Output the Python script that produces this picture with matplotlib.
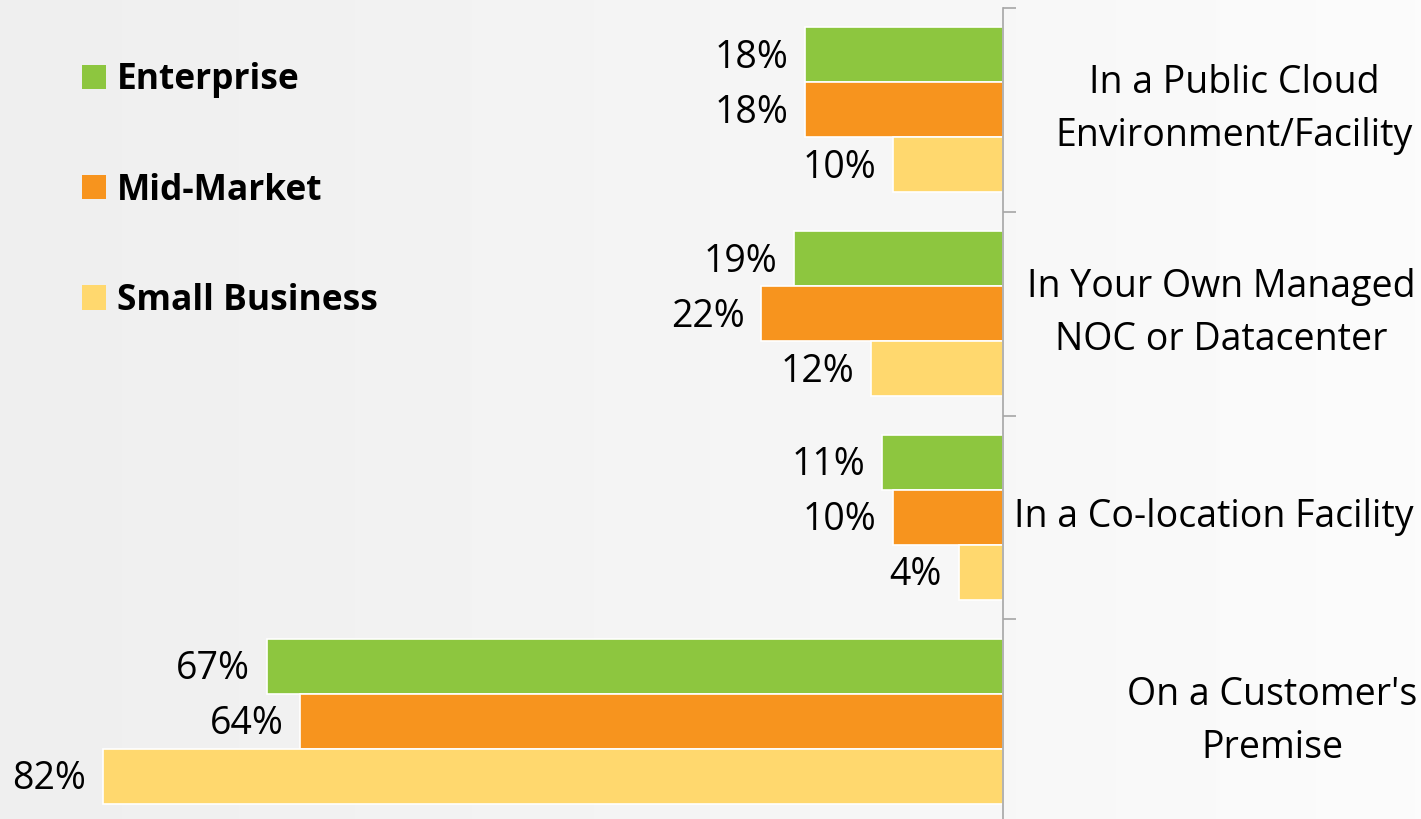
import numpy as np
import matplotlib.pyplot as plt
from matplotlib.colors import LinearSegmentedColormap
from matplotlib.transforms import blended_transform_factory

# Share of respondents by where the equipment is hosted
categories = ['In a Public Cloud\nEnvironment/Facility',
              'In Your Own Managed\nNOC or Datacenter',
              'In a Co-location Facility',
              "On a Customer's\nPremise"]
segments = ['Enterprise', 'Mid-Market', 'Small Business']
enterprise = [18, 19, 11, 67]
mid_market = [18, 22, 10, 64]
small_business = [10, 12, 4, 82]

colors = ['#8DC63F', '#F7941E', '#FFD86E']
label_centers = [1234, 1221, 1214, 1272]  # px, horizontal centre of each category label

plt.rcParams['font.family'] = ['Open Sans', 'DejaVu Sans']

W, H = 1421, 819
fig = plt.figure(figsize=(W / 100, H / 100), dpi=100)

# soft grey background, a bit lighter towards the right
bg = fig.add_axes([0, 0, 1, 1], zorder=-10)
grad = np.linspace(0, 1, 256).reshape(1, -1)
cmap = LinearSegmentedColormap.from_list('bg', ['#efefef', '#f5f5f5', '#fcfcfc'])
bg.imshow(grad, aspect='auto', cmap=cmap, extent=[0, 1, 0, 1])
bg.set_axis_off()

ax = fig.add_axes([0, (H - 823) / H, 1003 / W, 815 / H])
ax.patch.set_alpha(0)

y = np.arange(len(categories))
h = 0.27
series = [enterprise, mid_market, small_business]
for i, (vals, name, c) in enumerate(zip(series, segments, colors)):
    ypos = y + (i - 1) * h
    ax.barh(ypos, vals, height=h, color=c, label=name,
            edgecolor='white', linewidth=1.2)
    for v, yy in zip(vals, ypos):
        ax.annotate(f'{v}%', xy=(v, yy), xytext=(-17, -3),
                    textcoords='offset pixels', ha='right', va='center',
                    fontsize=27, color='black')

ax.set_xlim(91.35, 0)
ax.set_ylim(len(categories) - 0.5, -0.5)

for s in ['top', 'left', 'bottom']:
    ax.spines[s].set_visible(False)
ax.spines['right'].set_color('#a6a6a6')
ax.spines['right'].set_linewidth(1.2)
ax.set_xticks([])
ax.set_yticks([])
ax.set_yticks(np.arange(len(categories) + 1) - 0.5, minor=True)
ax.yaxis.set_ticks_position('right')
ax.tick_params(axis='y', which='minor', direction='out', length=9,
               width=1.2, color='#a6a6a6', labelright=False)

label_tf = blended_transform_factory(fig.transFigure, ax.transData)
for yi, (cat, xc) in enumerate(zip(categories, label_centers)):
    ax.text(xc / W, yi, cat, transform=label_tf,
            ha='center', va='center', multialignment='center',
            fontsize=27, linespacing=1.52, color='black')

leg = ax.legend(loc='upper left', bbox_to_anchor=(68 / 1003, (823 - 48) / 815),
                frameon=False, prop={'weight': 'bold', 'size': 25.5},
                handlelength=0.68, handleheight=0.68, handletextpad=0.3,
                labelspacing=2.1, borderaxespad=0)
for p in leg.get_patches():
    p.set_edgecolor('none')

fig.savefig('out.png', dpi=100)
